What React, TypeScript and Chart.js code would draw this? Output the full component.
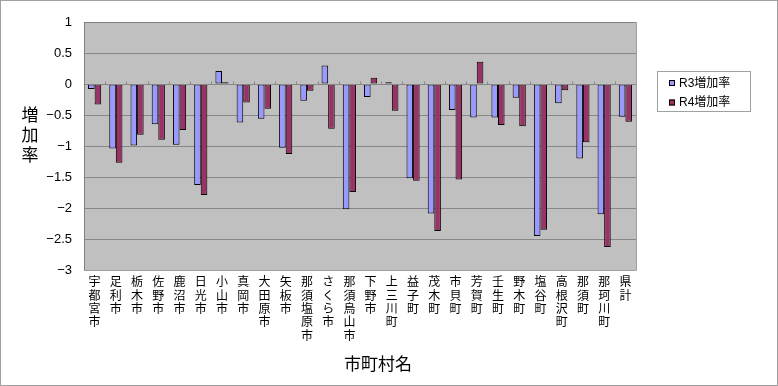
import React, { useEffect, useRef } from "react";
import { Chart, registerables } from "chart.js";

Chart.register(...registerables);

const categories = [
  "宇都宮市", "足利市", "栃木市", "佐野市", "鹿沼市", "日光市", "小山市", "真岡市",
  "大田原市", "矢板市", "那須塩原市", "さくら市", "那須烏山市", "下野市", "上三川町",
  "益子町", "茂木町", "市貝町", "芳賀町", "壬生町", "野木町", "塩谷町", "高根沢町",
  "那須町", "那珂川町", "県計",
];

const r3Values = [
  -0.08, -1.04, -0.99, -0.65, -0.98, -1.63, 0.21, -0.62, -0.56, -1.03, -0.27, 0.30, -2.02,
  -0.21, 0.03, -1.52, -2.09, -0.42, -0.54, -0.54, -0.22, -2.45, -0.31, -1.20, -2.10, -0.53,
];

const r4Values = [
  -0.33, -1.27, -0.82, -0.90, -0.74, -1.79, 0.03, -0.30, -0.40, -1.13, -0.11, -0.72, -1.74,
  0.10, -0.43, -1.56, -2.37, -1.54, 0.36, -0.66, -0.68, -2.35, -0.10, -0.94, -2.63, -0.61,
];

const seriesNames = ["R3増加率", "R4増加率"];
const seriesColors = ["#9999FF", "#993366"];
const yTitle = "増加率";
const xTitle = "市町村名";

const JP = '"Liberation Sans", "Noto Sans CJK JP", sans-serif';

const decorPlugin = {
  id: "decor",
  beforeDraw(chart: any) {
    const { ctx, chartArea } = chart;
    ctx.save();
    ctx.fillStyle = "#ffffff";
    ctx.fillRect(0, 0, chart.width, chart.height);
    ctx.fillStyle = "#C0C0C0";
    ctx.fillRect(chartArea.left, chartArea.top, chartArea.right - chartArea.left, chartArea.bottom - chartArea.top);
    ctx.restore();
  },
  afterDatasetsDraw(chart: any) {
    const { ctx, chartArea } = chart;
    const x = chart.scales.x;
    const y = chart.scales.y;
    ctx.save();
    // zero axis line with tick marks
    const y0 = Math.round(y.getPixelForValue(0)) + 0.5;
    ctx.strokeStyle = "#888888";
    ctx.lineWidth = 1;
    ctx.beginPath();
    ctx.moveTo(chartArea.left, y0);
    ctx.lineTo(chartArea.right, y0);
    const n = categories.length;
    const step = (chartArea.right - chartArea.left) / n;
    for (let i = 1; i < n; i++) {
      const px = Math.round(chartArea.left + i * step) + 0.5;
      ctx.moveTo(px, y0);
      ctx.lineTo(px, y0 - 3);
    }
    ctx.stroke();
    // plot border
    ctx.strokeStyle = "#808080";
    ctx.beginPath();
    ctx.moveTo(chartArea.left + 0.5, chartArea.bottom + 0.5);
    ctx.lineTo(chartArea.left + 0.5, chartArea.top + 0.5);
    ctx.lineTo(chartArea.right + 0.5, chartArea.top + 0.5);
    ctx.stroke();
    ctx.strokeStyle = "#A0A0A0";
    ctx.beginPath();
    ctx.moveTo(chartArea.right + 0.5, chartArea.top + 0.5);
    ctx.lineTo(chartArea.right + 0.5, chartArea.bottom + 0.5);
    ctx.lineTo(chartArea.left + 0.5, chartArea.bottom + 0.5);
    ctx.stroke();
    ctx.restore();
  },
  afterDraw(chart: any) {
    const { ctx } = chart;
    ctx.save();
    // outer border
    ctx.strokeStyle = "#A0A0A0";
    ctx.lineWidth = 1;
    ctx.strokeRect(0.5, 0.5, chart.width - 1, chart.height - 1);
    // y title, stacked characters
    ctx.fillStyle = "#000";
    ctx.font = '17px "Noto Sans CJK JP", sans-serif';
    ctx.textAlign = "center";
    ctx.textBaseline = "middle";
    const chars = yTitle.split("");
    chars.forEach((c, i) => ctx.fillText(c, 30, 115 + i * 20));
    // x title
    ctx.fillText(xTitle, 378, 364);
    // legend
    ctx.strokeStyle = "#A0A0A0";
    ctx.strokeRect(657.5, 71.5, 93, 40);
    ctx.font = '12px "Liberation Sans", "Noto Sans CJK JP", sans-serif';
    ctx.textAlign = "left";
    seriesNames.forEach((name, i) => {
      const cy = 83 + i * 19.5;
      ctx.fillStyle = seriesColors[i];
      ctx.fillRect(669, cy - 3, 6, 6);
      ctx.strokeStyle = "#000";
      ctx.strokeRect(669.5, cy - 2.5, 5, 5);
      ctx.fillStyle = "#000";
      ctx.fillText(name, 679, cy + 0.5);
    });
    ctx.restore();
  },
};

export default function App() {
  const ref = useRef<HTMLCanvasElement | null>(null);
  useEffect(() => {
    if (!ref.current) return;
    const chart = new Chart(ref.current, {
      type: "bar",
      data: {
        labels: categories.map((c) => c.split("")),
        datasets: [
          {
            label: seriesNames[0],
            data: r3Values,
            backgroundColor: seriesColors[0],
            borderColor: "#000",
            borderWidth: 1,
            borderSkipped: false,
            categoryPercentage: 0.62,
            barPercentage: 1,
          },
          {
            label: seriesNames[1],
            data: r4Values,
            backgroundColor: seriesColors[1],
            borderColor: "#000",
            borderWidth: 1,
            borderSkipped: false,
            categoryPercentage: 0.62,
            barPercentage: 1,
          },
        ],
      },
      options: {
        animation: false,
        responsive: false,
        maintainAspectRatio: false,
        layout: { padding: { left: 0, right: 142, top: 22, bottom: 0 } },
        plugins: { legend: { display: false }, tooltip: { enabled: false } },
        scales: {
          x: {
            grid: { display: false, drawTicks: false },
            border: { display: false },
            ticks: {
              maxRotation: 0,
              minRotation: 0,
              autoSkip: false,
              padding: 5,
              color: "#000",
              font: { family: '"Noto Sans CJK JP", sans-serif', size: 12, lineHeight: 1.11 },
            },
            afterFit: (s: any) => {
              s.height = 116;
            },
          },
          y: {
            min: -3,
            max: 1,
            grid: { color: "#888888", drawTicks: false },
            border: { display: false },
            ticks: {
              stepSize: 0.5,
              padding: 12,
              color: "#000",
              font: { family: '"Liberation Sans", sans-serif', size: 13 },
              callback: (v: any) => String(v).replace("-", "−"),
            },
            afterFit: (s: any) => {
              s.width = 84;
            },
          },
        },
      },
      plugins: [decorPlugin],
    });
    return () => chart.destroy();
  }, []);
  return (
    <div style={{ position: "fixed", left: 0, top: 0, width: 778, height: 386 }}>
      <canvas ref={ref} width={778} height={386} style={{ display: "block" }} />
    </div>
  );
}
